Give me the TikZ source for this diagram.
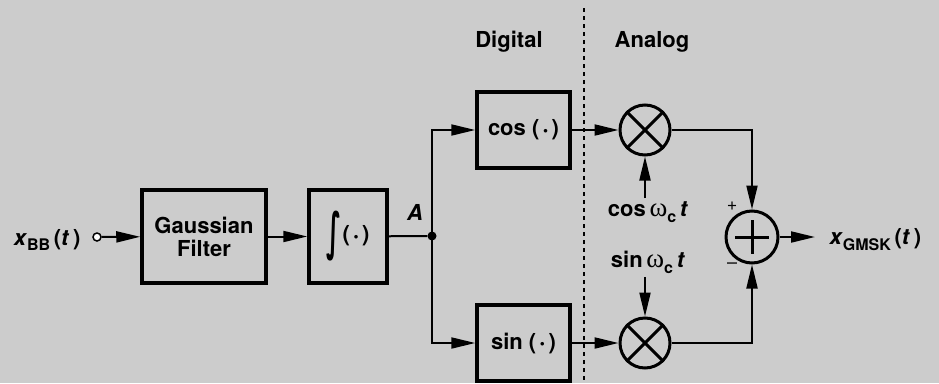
\documentclass[tikz,border=0pt]{standalone}
\usepackage{fontspec}
\setmainfont{TeX Gyre Heros}
\newfontfamily\omegafont{Liberation Serif}
\newfontfamily\intfont{DejaVu Sans}
\usetikzlibrary{arrows.meta}
\definecolor{bggray}{RGB}{204,204,204}
% signal name with lowered index
\newcommand{\lowidx}[1]{\raisebox{-0.5ex}{\fontsize{16}{16}\selectfont #1}}
\newcommand{\signame}[2]{\textit{#1}\lowidx{#2}\,(\textit{t}\,)}
\newcommand{\argdot}{(\,\raisebox{0.05ex}{\scalebox{0.65}{\textbullet}}\,)}
\newcommand{\carrier}[1]{#1\,{\omegafont\mdseries\fontsize{27}{27}\selectfont ω}\lowidx{c}\,\textit{t}}
\newcommand{\bigint}{$\vcenter{\hbox{\resizebox*{15pt}{50pt}{\intfont\bfseries ∫}}}$}

\begin{document}
\begin{tikzpicture}[x=1pt,y=-1pt,
  font=\fontsize{22}{25}\selectfont\bfseries,
  blk/.style={draw, line width=3.5pt, align=center, inner sep=0pt},
  mix/.style={draw, circle, line width=3pt, minimum size=50pt, inner sep=0pt},
  wire/.style={line width=2pt},
  sig/.style={wire, -{Triangle[length=24pt,width=11pt]}},
  port/.style={draw, circle, fill=white, line width=1.5pt, minimum size=8pt, inner sep=0pt},
  dot/.style={fill, circle, minimum size=9pt, inner sep=0pt},
  sect/.style={line width=2.2pt, dash pattern=on 4pt off 4pt}]
\useasboundingbox (0,0) rectangle (939,383);
\fill[bggray] (0,0) rectangle (939,383);

% Digital / Analog split
\draw[sect] (584,8) -- (584,383);
\node (digi) at (509,42) {Digital};
\node (anlg) at (652,42) {Analog};

% Input and baseband blocks
\node[anchor=east] (xbb) at (84,240) {\signame{x}{BB}};
\node[port] (in) at (97,237) {};
\node[blk, minimum width=124pt, minimum height=93pt] (gf) at (204,236.5) {Gaussian\\[-2pt]Filter};
\node[blk, minimum width=78pt, minimum height=93pt] (int) at (348,236.5) {\bigint\hspace{1pt}\argdot};
\node[dot] (jA) at (432,236) {};
\node[font=\fontsize{22}{25}\selectfont\bfseries\itshape] (lA) at (415,212) {A};

% cos / sin blocks
\node[blk, minimum width=93pt, minimum height=76pt] (cosb) at (523.5,130) {cos \argdot};
\node[blk, minimum width=93pt, minimum height=76pt] (sinb) at (523.5,343) {sin \argdot};

% Mixers
\foreach \m/\y in {m1/130, m2/343} {
  \node[mix] (\m) at (645,\y) {};
  \draw[line width=3pt] (\m.north west) -- (\m.south east);
  \draw[line width=3pt] (\m.north east) -- (\m.south west);
}
\node (lcos) at (648,212) {\carrier{cos}};
\node (lsin) at (648,262) {\carrier{sin}};

% Summer
\node[mix, minimum size=52pt] (sum) at (752,237) {};
\draw[line width=3pt] (752,220) -- (752,254);
\draw[line width=3pt] (735,237) -- (769,237);
\node[font=\fontsize{18}{20}\selectfont] (plus) at (732,206) {+};
\node[font=\fontsize{18}{20}\selectfont] (minus) at (732,266) {--};
\node[anchor=west] (xout) at (826,240) {\signame{x}{GMSK}};

% Connections
\draw[sig] (in) -- (gf);
\draw[sig] (gf) -- (int);
\draw[wire] (int) -- (jA);
\draw[sig] (jA.center) |- (cosb);
\draw[sig] (jA.center) |- (sinb);
\draw[sig] (cosb) -- (m1);
\draw[sig] (sinb) -- (m2);
\draw[sig] (lcos.north -| m1) -- (m1);
\draw[sig] (lsin.south -| m2) -- (m2);
\draw[sig] (m1) -| (sum);
\draw[sig] (m2) -| (sum);
\draw[sig] (sum) -- (815,237);
\end{tikzpicture}
\end{document}
